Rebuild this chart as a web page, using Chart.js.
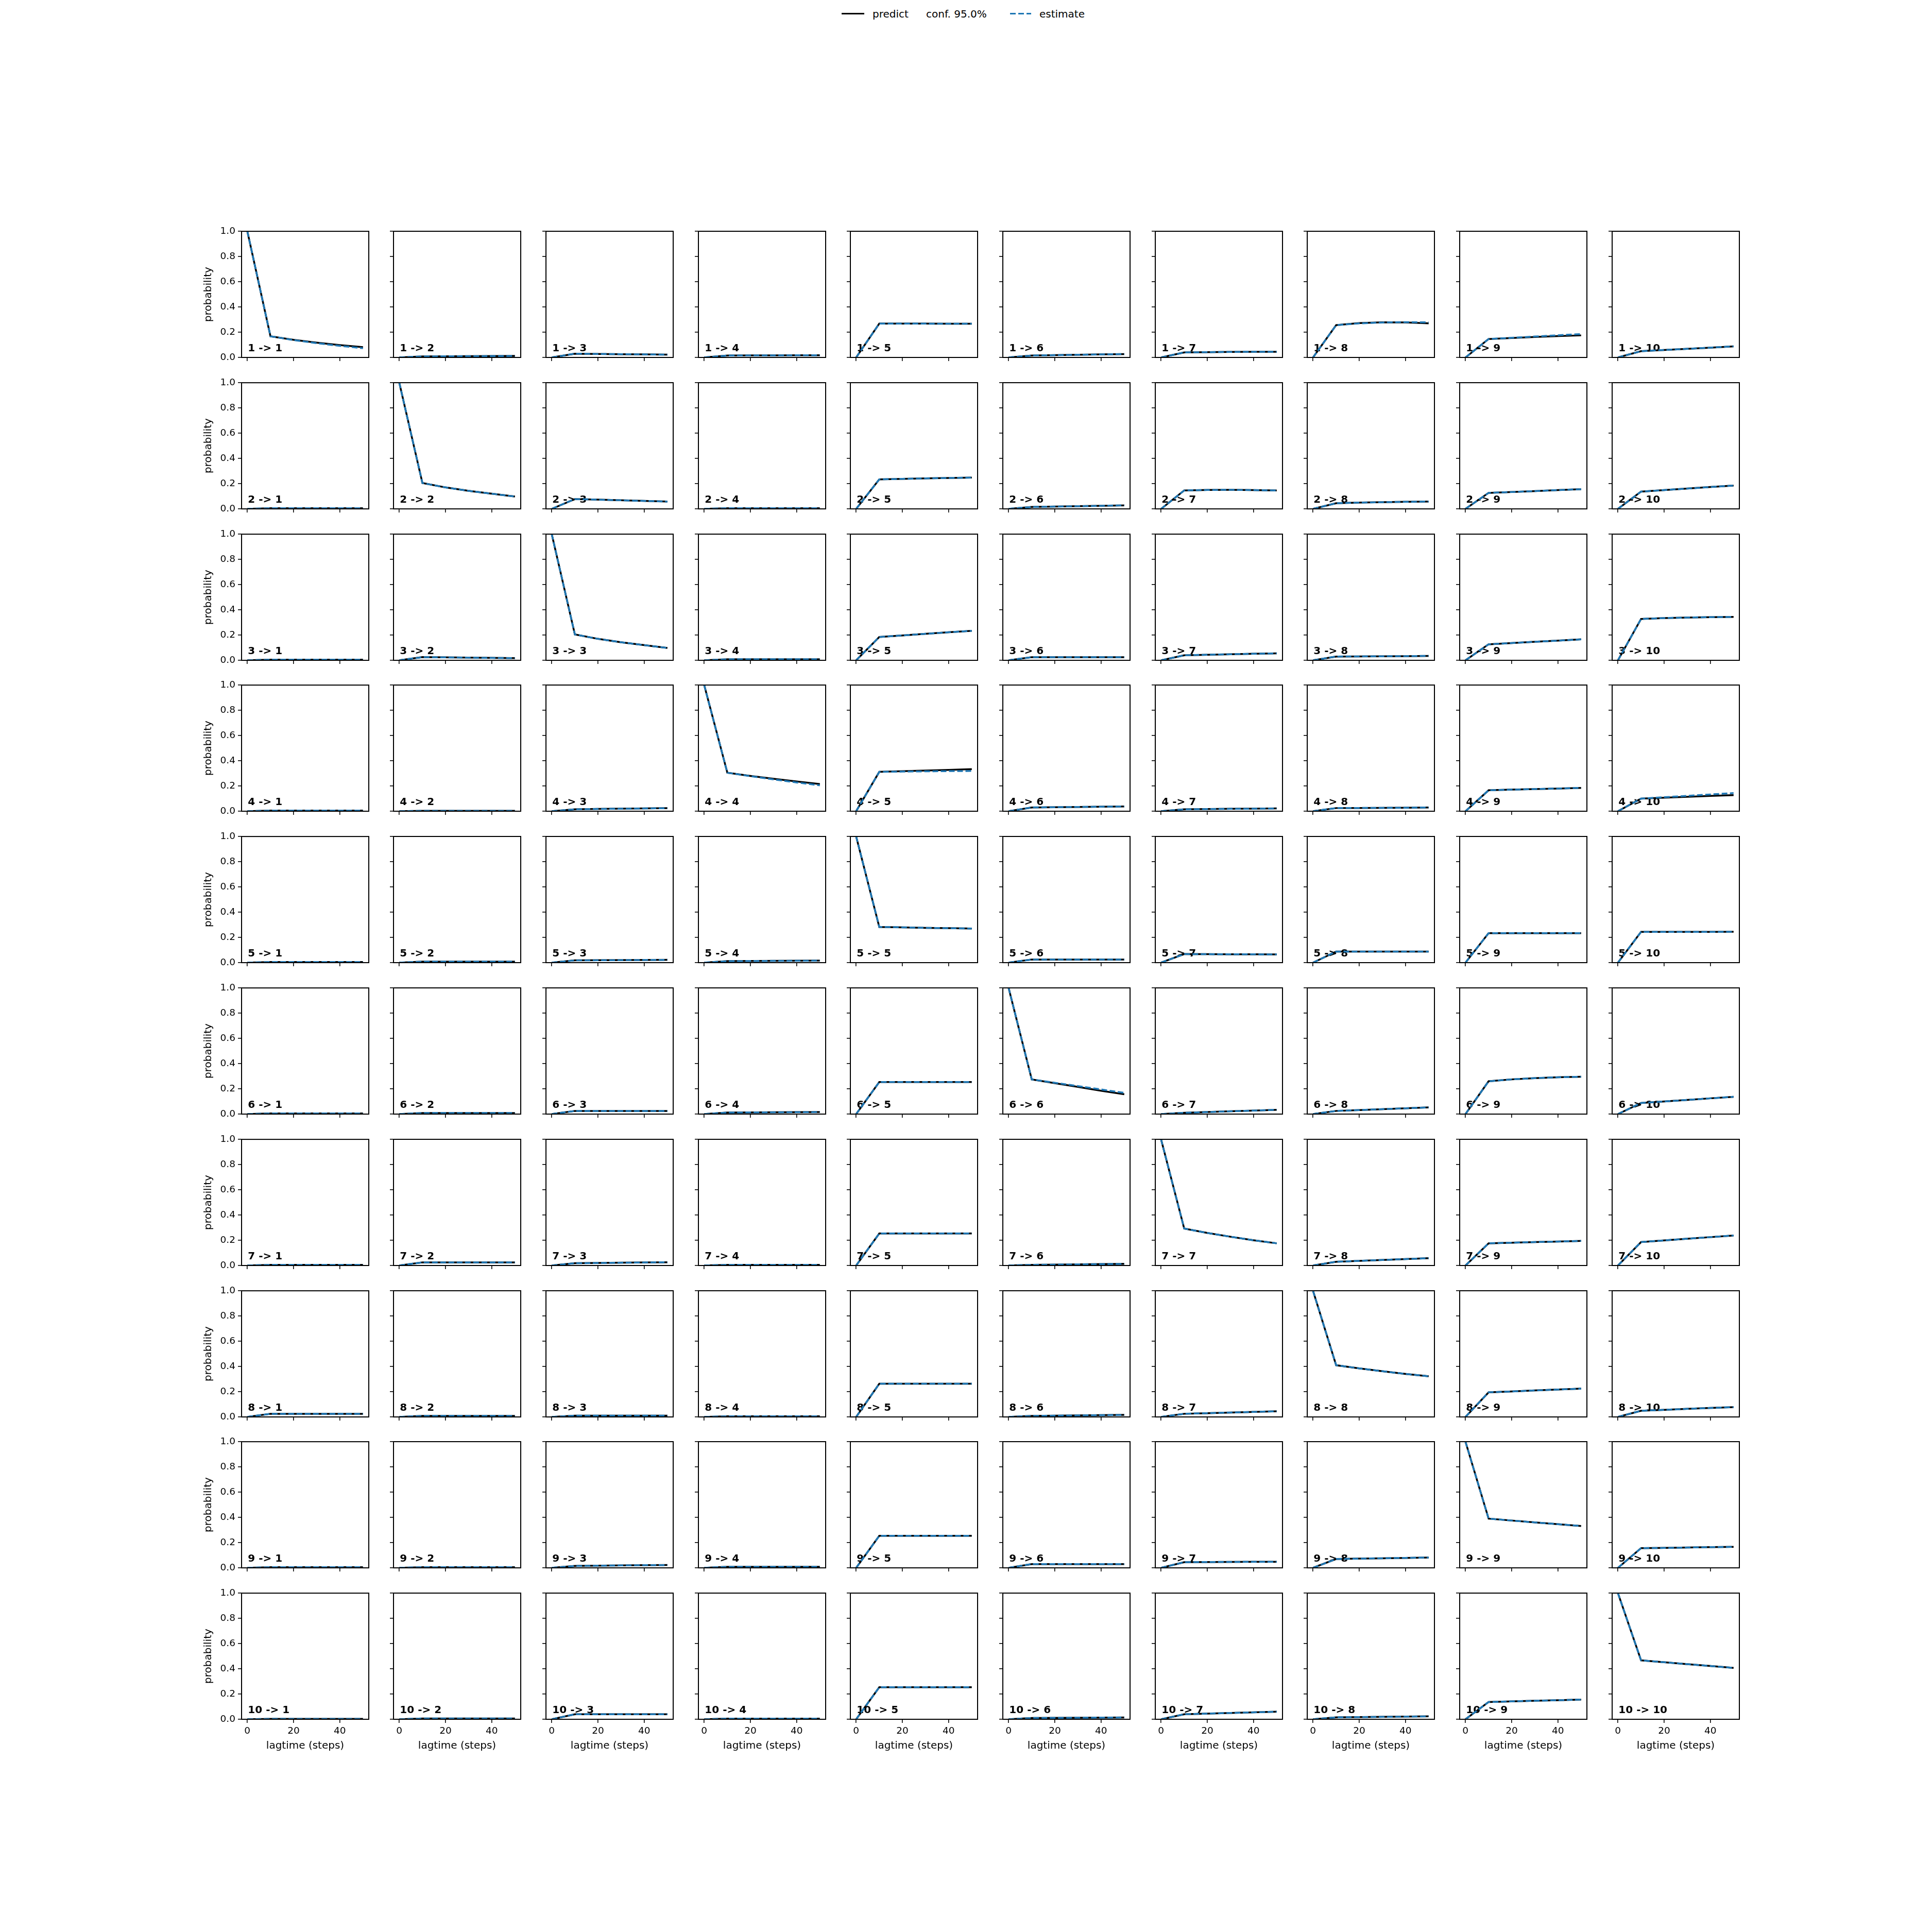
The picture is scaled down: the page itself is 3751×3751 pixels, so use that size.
<!DOCTYPE html>
<html>
<head>
<meta charset="utf-8">
<script src="https://cdn.jsdelivr.net/npm/chart.js@4.4.1/dist/chart.umd.min.js"></script>
<style>
  html, body { margin: 0; padding: 0; background: #fff; }
  body { width: 3751px; height: 3751px; position: relative; overflow: hidden; font-family: 'DejaVu Sans', sans-serif; }
  canvas { position: absolute; }
  .leg { position: absolute; font-size: 20px; line-height: 20px; color: #000; white-space: nowrap; }
</style>
</head>
<body>
<div class="leg" style="left:1634px;top:25px;width:44px;height:3px;background:#000;"></div>
<div class="leg" style="left:1694px;top:17px;">predict</div>
<div class="leg" style="left:1798px;top:17px;">conf. 95.0%</div>
<div class="leg" style="left:1961px;top:25px;width:41px;height:3px;background:repeating-linear-gradient(to right,#1f77b4 0 11px,transparent 11px 16px);"></div>
<div class="leg" style="left:2018px;top:17px;">estimate</div>
<script>
// lag times (steps) and state names
const lagtimes = [0, 10, 20, 30, 40, 50];
const states = ['1', '2', '3', '4', '5', '6', '7', '8', '9', '10'];
const xTicks = [0, 20, 40];
const yTicks = [0, 0.2, 0.4, 0.6, 0.8, 1.0];

// predicted transition probabilities, one list per starting state (to 1..10)
const predictFrom1 = [
  [1, 0.168, 0.140, 0.117, 0.098, 0.082],
  [0, 0.008, 0.009, 0.010, 0.011, 0.012],
  [0, 0.030, 0.028, 0.026, 0.024, 0.022],
  [0, 0.015, 0.016, 0.016, 0.017, 0.017],
  [0, 0.268, 0.268, 0.268, 0.267, 0.267],
  [0, 0.015, 0.018, 0.021, 0.024, 0.027],
  [0, 0.040, 0.042, 0.044, 0.045, 0.045],
  [0, 0.256, 0.272, 0.279, 0.278, 0.270],
  [0, 0.146, 0.154, 0.162, 0.169, 0.175],
  [0, 0.050, 0.059, 0.068, 0.078, 0.088]
];
const predictFrom2 = [
  [0, 0.005, 0.005, 0.005, 0.005, 0.005],
  [1, 0.205, 0.170, 0.143, 0.120, 0.098],
  [0, 0.078, 0.073, 0.068, 0.063, 0.058],
  [0, 0.005, 0.005, 0.005, 0.005, 0.005],
  [0, 0.234, 0.238, 0.242, 0.245, 0.248],
  [0, 0.015, 0.018, 0.021, 0.024, 0.028],
  [0, 0.146, 0.150, 0.151, 0.149, 0.146],
  [0, 0.045, 0.050, 0.053, 0.056, 0.058],
  [0, 0.127, 0.134, 0.141, 0.149, 0.156],
  [0, 0.137, 0.149, 0.161, 0.173, 0.185]
];
const predictFrom3 = [
  [0, 0.005, 0.005, 0.005, 0.005, 0.005],
  [0, 0.025, 0.023, 0.021, 0.019, 0.017],
  [1, 0.205, 0.170, 0.143, 0.120, 0.098],
  [0, 0.008, 0.008, 0.008, 0.008, 0.008],
  [0, 0.185, 0.197, 0.210, 0.222, 0.234],
  [0, 0.025, 0.025, 0.025, 0.025, 0.025],
  [0, 0.040, 0.044, 0.048, 0.052, 0.055],
  [0, 0.030, 0.031, 0.032, 0.033, 0.035],
  [0, 0.127, 0.137, 0.147, 0.156, 0.166],
  [0, 0.328, 0.335, 0.339, 0.342, 0.344]
];
const predictFrom4 = [
  [0, 0.005, 0.005, 0.005, 0.005, 0.005],
  [0, 0.003, 0.003, 0.003, 0.003, 0.003],
  [0, 0.015, 0.018, 0.020, 0.022, 0.024],
  [1, 0.305, 0.280, 0.257, 0.236, 0.215],
  [0, 0.312, 0.317, 0.322, 0.328, 0.334],
  [0, 0.030, 0.032, 0.034, 0.036, 0.038],
  [0, 0.015, 0.017, 0.019, 0.020, 0.022],
  [0, 0.025, 0.026, 0.027, 0.028, 0.030],
  [0, 0.166, 0.171, 0.176, 0.180, 0.185],
  [0, 0.100, 0.107, 0.114, 0.121, 0.128]
];
const predictFrom5 = [
  [0, 0.005, 0.005, 0.005, 0.005, 0.005],
  [0, 0.008, 0.008, 0.008, 0.008, 0.008],
  [0, 0.018, 0.019, 0.020, 0.021, 0.022],
  [0, 0.012, 0.013, 0.014, 0.015, 0.016],
  [1, 0.283, 0.280, 0.276, 0.273, 0.270],
  [0, 0.025, 0.025, 0.025, 0.025, 0.025],
  [0, 0.068, 0.067, 0.066, 0.066, 0.065],
  [0, 0.088, 0.088, 0.088, 0.088, 0.088],
  [0, 0.234, 0.234, 0.234, 0.234, 0.234],
  [0, 0.244, 0.244, 0.244, 0.244, 0.245]
];
const predictFrom6 = [
  [0, 0.005, 0.005, 0.005, 0.005, 0.005],
  [0, 0.008, 0.008, 0.008, 0.008, 0.008],
  [0, 0.025, 0.025, 0.025, 0.025, 0.025],
  [0, 0.012, 0.013, 0.014, 0.015, 0.016],
  [0, 0.254, 0.254, 0.254, 0.254, 0.254],
  [1, 0.275, 0.245, 0.215, 0.185, 0.157],
  [0, 0.010, 0.016, 0.022, 0.028, 0.034],
  [0, 0.025, 0.032, 0.039, 0.046, 0.053],
  [0, 0.260, 0.275, 0.285, 0.292, 0.296],
  [0, 0.088, 0.100, 0.112, 0.125, 0.137]
];
const predictFrom7 = [
  [0, 0.005, 0.005, 0.005, 0.005, 0.005],
  [0, 0.025, 0.025, 0.025, 0.025, 0.025],
  [0, 0.018, 0.020, 0.022, 0.024, 0.026],
  [0, 0.005, 0.005, 0.005, 0.005, 0.005],
  [0, 0.254, 0.254, 0.254, 0.254, 0.254],
  [0, 0.005, 0.007, 0.009, 0.011, 0.013],
  [1, 0.293, 0.258, 0.228, 0.200, 0.176],
  [0, 0.030, 0.037, 0.044, 0.051, 0.058],
  [0, 0.176, 0.181, 0.186, 0.190, 0.195],
  [0, 0.186, 0.199, 0.212, 0.225, 0.238]
];
const predictFrom8 = [
  [0, 0.025, 0.025, 0.025, 0.025, 0.025],
  [0, 0.008, 0.008, 0.008, 0.008, 0.008],
  [0, 0.010, 0.010, 0.010, 0.010, 0.010],
  [0, 0.005, 0.005, 0.005, 0.005, 0.005],
  [0, 0.263, 0.263, 0.263, 0.263, 0.263],
  [0, 0.008, 0.010, 0.012, 0.014, 0.016],
  [0, 0.025, 0.030, 0.035, 0.040, 0.045],
  [1, 0.410, 0.385, 0.362, 0.341, 0.322],
  [0, 0.195, 0.202, 0.210, 0.217, 0.224],
  [0, 0.049, 0.056, 0.064, 0.071, 0.078]
];
const predictFrom9 = [
  [0, 0.005, 0.005, 0.005, 0.005, 0.005],
  [0, 0.005, 0.005, 0.005, 0.005, 0.005],
  [0, 0.015, 0.017, 0.019, 0.021, 0.022],
  [0, 0.008, 0.008, 0.008, 0.008, 0.008],
  [0, 0.254, 0.254, 0.254, 0.254, 0.254],
  [0, 0.030, 0.030, 0.030, 0.030, 0.030],
  [0, 0.045, 0.046, 0.047, 0.048, 0.048],
  [0, 0.070, 0.073, 0.076, 0.079, 0.082],
  [1, 0.390, 0.375, 0.360, 0.346, 0.332],
  [0, 0.156, 0.158, 0.161, 0.164, 0.166]
];
const predictFrom10 = [
  [0, 0.003, 0.003, 0.003, 0.003, 0.003],
  [0, 0.006, 0.006, 0.006, 0.006, 0.006],
  [0, 0.040, 0.040, 0.040, 0.040, 0.040],
  [0, 0.005, 0.005, 0.005, 0.005, 0.005],
  [0, 0.254, 0.254, 0.254, 0.254, 0.254],
  [0, 0.010, 0.011, 0.012, 0.013, 0.014],
  [0, 0.040, 0.045, 0.050, 0.055, 0.060],
  [0, 0.015, 0.017, 0.019, 0.021, 0.023],
  [0, 0.137, 0.142, 0.147, 0.151, 0.156],
  [1, 0.467, 0.452, 0.437, 0.422, 0.407]
];
const predict = [predictFrom1, predictFrom2, predictFrom3, predictFrom4, predictFrom5,
                 predictFrom6, predictFrom7, predictFrom8, predictFrom9, predictFrom10];

// estimated probabilities where they visibly differ from the prediction: [from, to, values]
const estimateDiffers = [
  [1, 1, [1, 0.168, 0.138, 0.113, 0.092, 0.073]],
  [1, 8, [0, 0.256, 0.270, 0.277, 0.280, 0.278]],
  [1, 9, [0, 0.146, 0.156, 0.166, 0.176, 0.185]],
  [4, 4, [1, 0.305, 0.278, 0.252, 0.228, 0.205]],
  [4, 5, [0, 0.312, 0.314, 0.316, 0.318, 0.319]],
  [4, 10, [0, 0.100, 0.111, 0.122, 0.133, 0.144]],
  [6, 6, [1, 0.275, 0.248, 0.222, 0.195, 0.168]]
];

const FONT = "'DejaVu Sans', sans-serif";
const AX_W = 247, AX_H = 245;
const Y_AREA = 100, X_AREA = 80, PAD_T = 16, PAD_R = 16;

function estimateFor(i, j) {
  const hit = estimateDiffers.find(e => e[0] === i + 1 && e[1] === j + 1);
  return hit ? hit[2] : predict[i][j];
}

const framePlugin = {
  id: 'frame',
  beforeDatasetsDraw(chart, args, opts) {
    const a = chart.chartArea, ctx = chart.ctx;
    ctx.save();
    ctx.font = 'bold 20px ' + FONT;
    ctx.fillStyle = '#000';
    ctx.textBaseline = 'alphabetic';
    ctx.fillText(opts.label, a.left + 0.05 * (a.right - a.left), a.bottom - 0.05 * (a.bottom - a.top));
    ctx.restore();
  },
  afterDatasetsDraw(chart) {
    const a = chart.chartArea, ctx = chart.ctx;
    ctx.save();
    ctx.strokeStyle = '#000';
    ctx.lineWidth = 2;
    ctx.strokeRect(a.left, a.top, a.right - a.left, a.bottom - a.top);
    ctx.restore();
  }
};

function makePanel(i, j) {
  const axLeft = Math.round(468.5 + j * 295.7);
  const axTop = Math.round(449 + i * 293.8);
  const cv = document.createElement('canvas');
  const W = Y_AREA + AX_W + PAD_R, H = PAD_T + AX_H + X_AREA;
  cv.width = W; cv.height = H;
  cv.style.left = (axLeft - Y_AREA) + 'px';
  cv.style.top = (axTop - PAD_T) + 'px';
  cv.style.width = W + 'px';
  cv.style.height = H + 'px';
  document.body.appendChild(cv);

  const pts = vals => lagtimes.map((t, k) => ({ x: t, y: vals[k] }));
  const lastRow = i === 9, firstCol = j === 0;

  new Chart(cv, {
    type: 'line',
    data: {
      datasets: [
        { label: 'estimate', data: pts(estimateFor(i, j)), borderColor: '#1f77b4', borderWidth: 3.5,
          borderDash: [11, 5], pointRadius: 0, fill: false, tension: 0, order: 0 },
        { label: 'predict', data: pts(predict[i][j]), borderColor: '#000', borderWidth: 3.5,
          pointRadius: 0, fill: false, tension: 0, order: 1 }
      ]
    },
    options: {
      responsive: false,
      animation: false,
      devicePixelRatio: 1,
      layout: { padding: { top: PAD_T, right: PAD_R, left: 0, bottom: 0 } },
      plugins: {
        legend: { display: false },
        tooltip: { enabled: false },
        frame: { label: states[i] + ' -> ' + states[j] }
      },
      scales: {
        x: {
          type: 'linear', min: -2.5, max: 52.5,
          afterBuildTicks: s => { s.ticks = xTicks.map(v => ({ value: v })); },
          afterFit: s => { s.height = X_AREA; },
          border: { display: false },
          grid: { drawOnChartArea: false, drawTicks: true, tickLength: 7, color: '#000', lineWidth: 1.6 },
          ticks: { display: lastRow, color: '#000', font: { family: FONT, size: 18.5 }, padding: 5,
                   maxRotation: 0, autoSkip: false },
          title: { display: lastRow, text: 'lagtime (steps)', color: '#000',
                   font: { family: FONT, size: 20 }, padding: { top: 0, bottom: 16.6 } }
        },
        y: {
          type: 'linear', min: 0, max: 1,
          afterBuildTicks: s => { s.ticks = yTicks.map(v => ({ value: v })); },
          afterFit: s => { s.width = Y_AREA; },
          border: { display: false },
          grid: { drawOnChartArea: false, drawTicks: true, tickLength: 7, color: '#000', lineWidth: 1.6 },
          ticks: { display: firstCol, color: '#000', font: { family: FONT, size: 18.5 }, padding: 5,
                   callback: v => v.toFixed(1) },
          title: { display: firstCol, text: 'probability', color: '#000',
                   font: { family: FONT, size: 20 }, padding: { top: 23.6, bottom: 0 } }
        }
      }
    },
    plugins: [framePlugin]
  });
}

for (let i = 0; i < 10; i++) {
  for (let j = 0; j < 10; j++) makePanel(i, j);
}
</script>
</body>
</html>
